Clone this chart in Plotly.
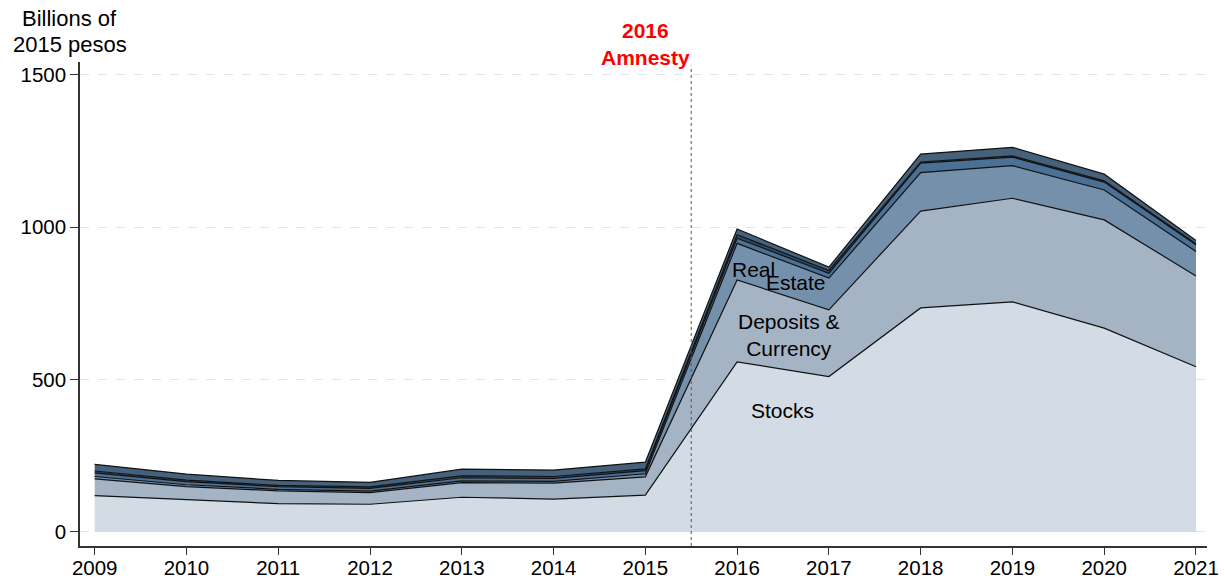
import plotly.graph_objects as go

years = [2009, 2010, 2011, 2012, 2013, 2014, 2015, 2016, 2017, 2018, 2019, 2020, 2021]

# billions of 2015 pesos, stacked bottom -> top
stocks = [119, 105, 93, 91, 114, 108, 121, 558, 510, 735, 755, 669, 542]
deposits = [55, 44, 42, 38, 48, 52, 60, 269, 219, 318, 340, 355, 298]
real_estate = [8, 6, 5, 5, 6, 6, 10, 120, 104, 126, 107, 98, 80]
other_fin = [12, 10, 9, 9, 10, 10, 10, 17, 16, 31, 28, 26, 22]
vehicles = [6, 5, 4, 5, 6, 6, 6, 11, 9, 4, 4, 4, 4]
other = [22, 20, 16, 15, 22, 21, 22, 19, 11, 26, 28, 22, 10]

series = [
    ("Stocks", stocks, "#d3dbe4"),
    ("Deposits & Currency", deposits, "#a4b4c5"),
    ("Real Estate", real_estate, "#7590aa"),
    ("Other financial", other_fin, "#4a7096"),
    ("Vehicles", vehicles, "#2f4b67"),
    ("Other", other, "#46617c"),
]

FONT = "Arial, Liberation Sans, sans-serif"

fig = go.Figure()
for name, vals, col in series:
    fig.add_trace(go.Scatter(
        x=years, y=vals, name=name, mode="lines", stackgroup="one",
        line=dict(color="#111111", width=1.2), fillcolor=col,
    ))

# amnesty marker
fig.add_shape(type="line", x0=2015.5, x1=2015.5, y0=-46, y1=1530,
              line=dict(color="#555555", width=1, dash="dot"))
fig.add_annotation(x=2015.0, y=1512, text="<b>2016<br>Amnesty</b>", showarrow=False,
                   xanchor="center", yanchor="bottom",
                   font=dict(family=FONT, size=21, color="red"))

labels = [
    ("Stocks", 2016.49, 400),
    ("Deposits &<br>Currency", 2016.57, 647),
    ("Real", 2016.18, 860),
    ("Estate", 2016.64, 817),
]
for txt, lx, ly in labels:
    fig.add_annotation(x=lx, y=ly, text=txt, showarrow=False, xanchor="center", yanchor="middle",
                       font=dict(family=FONT, size=21, color="black"))

# y title, one line per annotation to keep the tight line spacing
for txt, py in [("Billions of", 1.089), ("2015 pesos", 1.037)]:
    fig.add_annotation(xref="paper", yref="paper", x=-0.009, y=py, text=txt,
                       showarrow=False, xanchor="center", yanchor="middle",
                       font=dict(family=FONT, size=22, color="black"))

fig.update_layout(
    width=1225, height=580,
    margin=dict(l=80, r=18, t=62, b=34),
    plot_bgcolor="white", paper_bgcolor="white",
    showlegend=False,
    font=dict(family=FONT, size=20, color="black"),
    xaxis=dict(range=[2008.84, 2021.12], tickvals=years, showgrid=False, zeroline=False,
               showline=True, linecolor="#333333", linewidth=1.5, automargin=False,
               ticks="outside", ticklen=7, tickcolor="#333333", tickfont=dict(size=20.5),
               ticklabelstandoff=-4),
    yaxis=dict(range=[-46, 1542], tickvals=[0, 500, 1000, 1500], showgrid=True,
               gridcolor="#dde7e7", griddash="dash", gridwidth=1, zeroline=False,
               showline=True, linecolor="#333333", linewidth=1.5, automargin=False,
               ticks="outside", ticklen=8, tickcolor="#333333", tickfont=dict(size=20.5)),
)

# drop the default 8px body margin so the figure sits at the page corner
fig.write_html("out.html", config={"displayModeBar": False},
               post_script="document.body.style.margin='0';")
